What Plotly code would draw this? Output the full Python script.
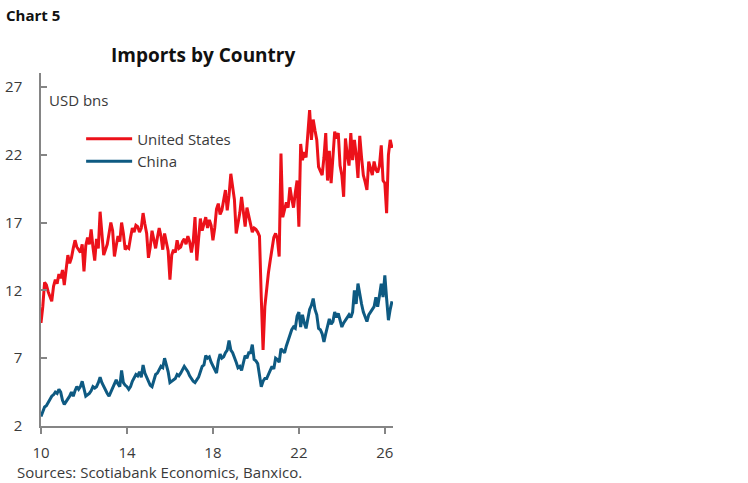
import plotly.graph_objects as go

# Monthly data, Jan 2010 onward (x in "year of century" units, 10 = 2010)
start_year = 10
us_imports = [
    9.6, 10.8, 12.6, 12.4, 11.9, 11.6, 11.2, 12.3, 12.8, 12.5, 13.2, 12.9,   # 2010
    13.5, 12.4, 13.6, 14.6, 14.0, 14.4, 15.1, 15.7, 15.2, 15.0, 14.8, 15.4,  # 2011
    13.4, 15.3, 15.9, 15.4, 16.5, 15.2, 14.2, 15.8, 15.1, 17.8, 16.0, 14.6,  # 2012
    15.0, 15.4, 16.2, 17.0, 16.4, 14.5, 15.3, 16.0, 15.6, 17.0, 16.2, 15.0,  # 2013
    15.2, 15.1, 15.9, 16.6, 16.3, 16.8, 16.7, 16.3, 16.6, 17.7, 16.9, 16.2,  # 2014
    14.4, 15.2, 16.4, 15.8, 15.1, 15.9, 16.6, 16.0, 15.0, 16.2, 15.6, 14.9,  # 2015
    12.8, 14.6, 15.0, 14.8, 15.7, 15.1, 15.2, 15.6, 15.8, 15.4, 16.0, 15.6,  # 2016
    14.8, 15.6, 17.4, 14.2, 15.8, 17.3, 16.4, 16.9, 17.4, 16.6, 17.2, 16.8,  # 2017
    15.7, 16.6, 18.0, 18.4, 17.6, 17.9, 18.8, 19.4, 17.9, 19.0, 20.6, 19.6,  # 2018
    18.7, 16.2, 17.0, 17.7, 18.9, 17.6, 16.7, 18.1, 17.5, 16.9, 16.3, 16.6,  # 2019
    16.5, 16.3, 16.0, 11.5, 7.6, 10.8, 12.3, 13.3, 14.2, 15.0, 15.9, 16.2,   # 2020
    15.8, 14.5, 22.1, 17.4, 17.9, 18.5, 18.1, 19.6, 18.8, 18.1, 19.2, 20.1,  # 2021
    16.7, 22.8, 21.6, 22.2, 21.8, 23.5, 25.3, 23.1, 24.6, 23.8, 23.1, 21.1,  # 2022
    20.8, 20.5, 21.8, 23.6, 20.1, 22.3, 19.9, 22.0, 23.7, 23.2, 23.6, 21.2,  # 2023
    20.5, 18.9, 23.2, 22.0, 21.2, 23.6, 21.6, 23.1, 22.0, 20.3, 23.4, 21.8,  # 2024
    20.5, 20.0, 19.4, 21.5, 20.9, 20.5, 21.5, 20.9, 20.7, 21.2, 22.7, 20.1,  # 2025
    19.9, 17.7, 22.0, 23.1, 22.5,                                            # 2026
]
china_imports = [
    2.7, 3.0, 3.4, 3.5, 3.7, 4.0, 4.2, 4.3, 4.5, 4.4, 4.7, 4.5,   # 2010
    3.9, 3.6, 3.8, 3.9, 4.2, 4.5, 4.2, 4.6, 4.9, 4.7, 4.9, 5.3,   # 2011
    4.7, 4.2, 4.3, 4.4, 4.6, 4.9, 4.8, 4.9, 5.2, 5.6, 5.2, 4.9,   # 2012
    4.7, 4.4, 4.2, 4.5, 4.8, 5.0, 5.4, 5.1, 4.9, 6.1, 5.2, 5.0,   # 2013
    4.9, 4.7, 4.9, 5.3, 5.5, 5.8, 5.7, 6.0, 5.6, 6.5, 5.9, 5.6,   # 2014
    5.3, 5.0, 4.9, 5.4, 5.8, 5.9, 6.1, 6.4, 6.3, 7.0, 6.5, 6.0,   # 2015
    5.2, 5.3, 5.4, 5.5, 5.8, 5.7, 5.9, 6.1, 6.4, 6.2, 6.0, 5.7,   # 2016
    5.5, 5.3, 5.2, 5.4, 5.6, 6.0, 6.4, 6.5, 7.2, 7.0, 7.1, 6.7,   # 2017
    6.4, 6.1, 5.9, 6.8, 7.3, 7.0, 7.1, 7.4, 7.6, 8.3, 7.6, 7.4,   # 2018
    7.1, 6.7, 6.3, 6.4, 6.1, 6.7, 7.2, 7.0, 7.4, 7.4, 8.0, 6.9,   # 2019
    6.8, 6.6, 5.8, 4.9, 5.3, 5.5, 5.5, 5.8, 6.1, 6.4, 6.2, 7.0,   # 2020
    6.9, 6.7, 7.7, 7.5, 7.4, 7.9, 8.3, 8.6, 9.1, 9.3, 9.2, 10.1,  # 2021
    10.4, 9.3, 10.2, 9.6, 9.2, 9.9, 10.6, 10.9, 11.4, 10.6, 10.2, 9.2,   # 2022
    9.1, 8.8, 8.2, 8.8, 9.3, 9.9, 9.5, 9.7, 10.4, 10.0, 10.3, 9.8,       # 2023
    9.3, 9.6, 9.8, 10.0, 10.2, 10.0, 10.4, 12.0, 11.0, 12.5, 11.6, 11.0, # 2024
    10.4, 10.1, 9.7, 10.2, 10.4, 10.6, 10.8, 11.5, 10.8, 11.6, 12.5, 11.5,  # 2025
    13.1, 11.4, 9.8, 10.6, 11.2,                                          # 2026
]
series_names = ["United States", "China"]
x_ticks = [10, 14, 18, 22, 26]
y_ticks = [2, 7, 12, 17, 22, 27]

dates = [start_year + i / 12 for i in range(len(us_imports))]

RED = "#EC111A"
BLUE = "#0E5A82"
FONT = "Open Sans"
TXT = "#3a3a3a"
AX = "#858585"

fig = go.Figure()
fig.add_trace(go.Scatter(x=dates, y=us_imports, mode="lines", name=series_names[0],
                         line=dict(color=RED, width=3)))
fig.add_trace(go.Scatter(x=dates, y=china_imports, mode="lines", name=series_names[1],
                         line=dict(color=BLUE, width=3)))

fig.update_layout(
    width=748, height=483,
    margin=dict(l=41, r=355, t=73, b=57, autoexpand=False),
    paper_bgcolor="white", plot_bgcolor="white",
    font=dict(family=FONT, size=15, color=TXT),
    showlegend=True,
    legend=dict(x=0.114, y=0.86, xanchor="left", yanchor="top",
                bgcolor="rgba(0,0,0,0)", font=dict(size=15, color=TXT),
                itemwidth=46, tracegroupgap=0),
    xaxis=dict(range=[10, 26.38], tickvals=x_ticks, ticktext=[str(v) for v in x_ticks],
               showgrid=False, zeroline=False, showline=True, linecolor=AX, linewidth=1.5,
               ticks="outside", ticklen=6, tickcolor=AX, tickwidth=1.5,
               ticklabelstandoff=6, automargin=False,
               tickfont=dict(size=15, color=TXT)),
    yaxis=dict(range=[2, 28.03], tickvals=y_ticks, ticktext=[str(v) for v in y_ticks],
               showgrid=False, zeroline=False, showline=True, linecolor=AX, linewidth=1.5,
               ticks="inside", ticklen=6, tickcolor=AX, tickwidth=1.5,
               ticklabelstandoff=14, automargin=False,
               tickfont=dict(size=15, color=TXT)),
    annotations=[
        dict(text="<b>Chart 5</b>", xref="paper", yref="paper", x=-41/352, y=1 + (73 - 15) / 353,
             xanchor="left", yanchor="middle", showarrow=False, xshift=4,
             font=dict(size=15, color="#111111")),
        dict(text="<b>Imports by Country</b>", xref="paper", yref="paper",
             x=(203 - 41) / 352, y=1 + (73 - 55) / 353, xanchor="center", yanchor="middle",
             showarrow=False, font=dict(size=19, color="#111111")),
        dict(text="USD bns", xref="paper", yref="paper", x=(47 - 41) / 352, y=1 - (100 - 73) / 353,
             xanchor="left", yanchor="middle", showarrow=False, font=dict(size=15, color=TXT)),
        dict(text="Sources: Scotiabank Economics, Banxico.", xref="paper", yref="paper",
             x=(15 - 41) / 352, y=-(472 - 426) / 353, xanchor="left", yanchor="middle",
             showarrow=False, font=dict(size=15, color=TXT)),
    ],
)

fig.write_html("out.html")
